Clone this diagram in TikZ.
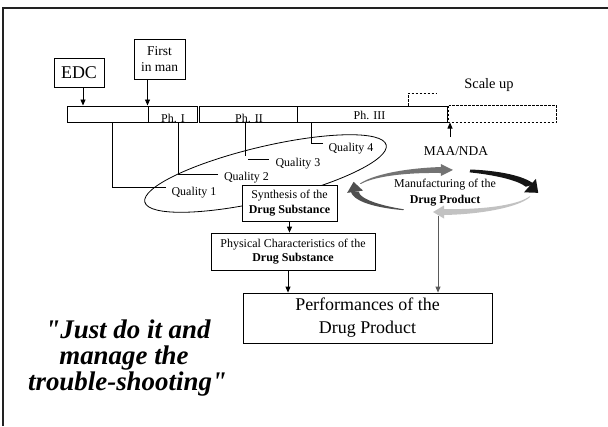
\documentclass[tikz,border=0pt]{standalone}
\usepackage{fontspec}
\setmainfont{Liberation Serif}
\newfontfamily\qfont{Liberation Serif}[Ligatures=TeXOff]
\usetikzlibrary{arrows.meta,shapes.geometric}
\definecolor{cdark}{HTML}{505050}
\definecolor{cmid}{HTML}{737373}
\definecolor{cblk}{HTML}{151515}
\definecolor{clight}{HTML}{C2C2C2}
\definecolor{carr}{HTML}{5A5A5A}
\definecolor{cframe}{HTML}{222222}
\tikzset{
  bx/.style={draw, line width=0.8bp, fill=white, inner sep=0pt, align=center},
  tl/.style={draw, line width=1bp, inner sep=0pt, minimum height=16bp},
  arr/.style={line width=0.8bp, -{Triangle[length=6bp,width=5bp]}},
  ln/.style={line width=0.8bp},
  f12/.style={font=\fontsize{12}{15}\selectfont},
  lbl/.style={f12, inner sep=0pt},
  qt/.style={font=\qfont\fontsize{27}{27}\selectfont\bfseries\itshape, anchor=base, inner sep=0pt},
  dsh/.style={line width=0.8bp, dash pattern=on 2.5bp off 1.5bp},
}
\newcommand\cycarrow[7]{%
  \pgfmathsetmacro\cax{444+89*cos(#3)}%
  \pgfmathsetmacro\cay{191+21*sin(#3)}%
  \pgfmathsetmacro\ctx{-89*sin(#3)}%
  \pgfmathsetmacro\cty{21*cos(#3)}%
  \pgfmathsetmacro\ctn{sqrt(\ctx*\ctx+\cty*\cty)}%
  \pgfmathsetmacro\cux{\ctx/\ctn}%
  \pgfmathsetmacro\cuy{\cty/\ctn}%
  \fill[#1] plot[domain=#2:#3,samples=30,variable=\cang]
     ({444+(89+(#4+(#5-#4)*(\cang-#2)/(#3-#2))/2)*cos(\cang)},{191+(21+(#4+(#5-#4)*(\cang-#2)/(#3-#2))/2)*sin(\cang)})
     -- plot[domain=#3:#2,samples=30,variable=\cang]
     ({444+(89-(#4+(#5-#4)*(\cang-#2)/(#3-#2))/2)*cos(\cang)},{191+(21-(#4+(#5-#4)*(\cang-#2)/(#3-#2))/2)*sin(\cang)})
     -- cycle;
  \fill[#1] ({\cax+#6*\cuy},{\cay-#6*\cux}) -- ({\cax-#6*\cuy},{\cay+#6*\cux}) -- ({\cax+#7*\cux},{\cay+#7*\cuy}) -- cycle;
}
\begin{document}
\begin{tikzpicture}[x=1bp,y=-1bp]
\useasboundingbox (0,0) rectangle (608,426);
\fill[white] (0,0) rectangle (608,426);
% slide frame
\coordinate (fr0) at (3,426);
\coordinate (fr1) at (3,8);
\coordinate (fr2) at (608,8);
\draw[line width=1.4bp, cframe] (fr0) -- (fr1) -- (fr2);

% top boxes
\node[bx, minimum width=50bp, minimum height=29bp, font=\fontsize{18}{20}\selectfont] (edc) at (79,72.5) {EDC};
\node[bx, minimum width=51bp, minimum height=40bp, font=\fontsize{13.5}{16}\selectfont] (fim) at (159.5,59) {First\\in man};

% timeline
\node[tl, minimum width=81bp] (t0) at (107.5,114) {};
\node[tl, minimum width=49bp] (t1) at (172.5,114) {};
\node[tl, minimum width=98bp] (t2) at (248,114) {};
\node[tl, minimum width=150bp] (t3) at (372,114) {};
\node[tl, draw=none, minimum width=107bp] (td) at (502.5,114) {};
\draw[dsh] (td.north west) rectangle (td.south east);
\node[lbl, anchor=base] (ph1) at (173,122.5) {Ph. I};
\node[lbl, anchor=base] (ph2) at (249,122.5) {Ph. II};
\node[lbl, anchor=base] (ph3) at (369.5,119) {Ph. III};

% arrows to timeline
\coordinate (xedc) at (83,0);
\draw[arr] (edc.south -| xedc) -- (t0.north -| xedc);
\draw[arr] (fim.south -| t1.north west) -- (t1.north west);

% scale up
\coordinate (xsu) at (408,0);
\coordinate (sue) at (437,93);
\draw[dsh] (t3.north -| xsu) |- (sue);
\node[font=\fontsize{14.5}{16}\selectfont, inner sep=0pt] (scl) at (489,85.5) {Scale up};

% MAA/NDA
\coordinate (maa0) at (450,137);
\draw[arr] (maa0) -- (maa0 |- t3.south);
\node[font=\fontsize{13.5}{15}\selectfont, inner sep=0pt] (maa) at (456,151.5) {MAA/NDA};

% ellipse of qualities
\node[draw, ellipse, line width=0.8bp, minimum width=248bp, minimum height=54bp, rotate=13.3, inner sep=0pt] (ell) at (265.5,173.5) {};

% quality connectors
\coordinate (xq1) at (112,0);
\coordinate (q1e) at (166,187);
\draw[ln] (q1e) -| (t0.south -| xq1);
\coordinate (xq2) at (178,0);
\coordinate (q2e) at (218,174);
\draw[ln] (q2e) -| (t1.south -| xq2);
\coordinate (q3v) at (245,156);
\draw[ln] (t2.south -| q3v) -- (q3v);
\coordinate (q3a) at (248,159.5);
\coordinate (q3b) at (269,159.5);
\draw[ln] (q3a) -- (q3b);
\coordinate (xq4) at (311,0);
\coordinate (q4e) at (323,143);
\draw[ln] (q4e) -| (t3.south -| xq4);

\node[lbl] (q1) at (194,193) {Quality 1};
\node[lbl] (q2) at (246.5,177.5) {Quality 2};
\node[lbl] (q3) at (298,164) {Quality 3};
\node[lbl] (q4) at (351,149) {Quality 4};

% drug substance boxes
\node[bx, f12, minimum width=95bp, minimum height=36bp] (syn) at (289.5,203) {Synthesis of the\\\textbf{Drug Substance}};
\node[bx, font=\fontsize{12}{14}\selectfont, minimum width=164bp, minimum height=37bp] (phys) at (293,251.5) {Physical Characteristics of the\\\textbf{Drug Substance}};
\node[bx, font=\fontsize{18}{23}\selectfont, minimum width=249bp, minimum height=50bp] (perf) at (367.5,318) {Performances of the\\Drug Product};

\draw[arr] (syn.south) -- (syn.south |- phys.north);
\coordinate (xpp) at (288,0);
\draw[arr] (phys.south -| xpp) -- (perf.north -| xpp);

% manufacturing cycle
\cycarrow{cdark}{117}{178}{1}{8}{8}{10}
\cycarrow{cmid}{200}{268}{1}{6}{6}{12}
\cycarrow{cblk}{287}{345}{3}{9}{9}{11}
\cycarrow{clight}{15}{90}{1}{6}{6.5}{11}
\node[font=\fontsize{12}{16}\selectfont, align=center, inner sep=0pt] (mfg) at (445,193) {Manufacturing of the\\\textbf{Drug Product}};
\coordinate (mfgb) at (438,216);
\draw[arr, carr] (mfgb) -- (perf.north -| mfgb);

% quote
\node[qt] (qa) at (128,338) {"Just do it and};
\node[qt] (qb) at (124,364) {manage the};
\node[qt] (qc) at (127.5,390) {trouble-shooting"};
\end{tikzpicture}
\end{document}
